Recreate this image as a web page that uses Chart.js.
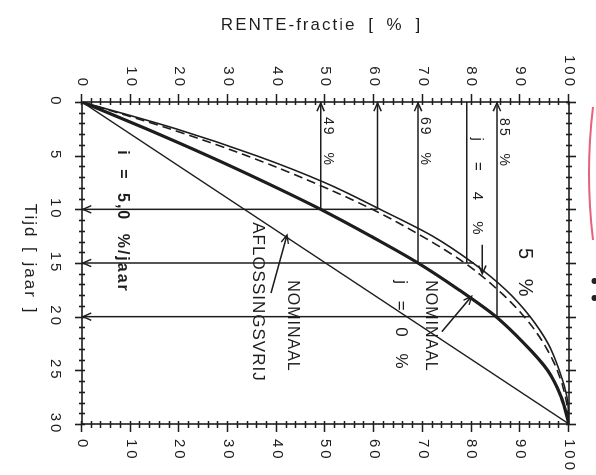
<!DOCTYPE html>
<html><head><meta charset="utf-8">
<script src="https://cdn.jsdelivr.net/npm/chart.js@4/dist/chart.umd.min.js"></script>
<style>
html,body{margin:0;padding:0;background:#fff;overflow:hidden;width:596px;height:475px}
#wrap{position:absolute;left:0;top:0;width:475px;height:596px;transform-origin:0 0;transform:translate(596px,0) rotate(90deg)}
canvas{display:block}
</style></head><body>
<div id="wrap"><canvas id="c" width="475" height="596"></canvas></div>
<script>
// ---- data (time in years, RENTE-fractie in %) ----
const years        = [0, 2.5, 5, 7.5, 10, 12.5, 15, 17.5, 20, 22.5, 25, 27.5, 30];
const nominalJ0    = [0, 13.2, 25.8, 37.7, 49.0, 59.3, 69.0, 77.4, 85.0, 90.8, 95.6, 98.4, 100];
const realJ4       = [0, 18.0, 33.8, 47.5, 59.6, 69.8, 78.6, 85.4, 90.8, 94.8, 97.6, 99.3, 100];
const realJ5       = [0, 19.3, 35.8, 49.8, 61.2, 72.0, 80.3, 87.0, 92.0, 95.7, 98.0, 99.6, 100];
const interestOnlyYears    = [0, 30];
const interestOnlyFraction = [0, 100];
const timeTickStep = 5;
const fractionTickStep = 10;
// guide lines: constant fraction from year 0 to an end year
const guideFractions = [49, 60.7, 69, 79, 85.2];
const guideEndYears  = [10, 10, 15, 15, 20];
const guideHasArrow  = [true, true, true, false, true];
// guide lines: constant year from fraction 0 to an end fraction
const markerYears     = [10, 15, 20];
const markerEndFracts = [60.7, 80.5, 92];

const INK = '#1d1d1d';
const FONT = '"Liberation Sans", Arial, sans-serif';

const notes = [
  {text:'49 %', t:1.4, r:49.7, size:14, ls:2, ws:10},
  {text:'69 %', t:1.4, r:69.7, size:14, ls:2, ws:10},
  {text:'85 %', t:1.5, r:85.8, size:14, ls:2, ws:10},
  {text:'j = 4 %', t:3.3, r:80.2, size:15, ls:2, ws:13},
  {text:'5 %', t:13.6, r:89.8, size:20, ls:2, ws:10},
  {text:'NOMINAAL', t:16.6, r:70.6, size:16, ls:1, ws:0},
  {text:'j = 0 %', t:16.6, r:64.4, size:17, ls:2, ws:8},
  {text:'NOMINAAL', t:16.6, r:42.3, size:16, ls:1, ws:0},
  {text:'AFLOSSINGSVRIJ', t:11.2, r:35.1, size:17, ls:1, ws:0},
  {text:'i = 5,0 %/jaar', t:4.5, r:7.4, size:16, bold:true, ls:2, ws:6}
];
const pointers = [
  {from:[13.3, 82.2], to:[16.0, 82.2]},
  {from:[21.4, 73.9], to:[18.1, 80.0]},
  {from:[17.8, 38.8], to:[12.4, 42.1]}
];

const pts = (xs, ys) => xs.map((x, i) => ({x, y: ys[i]}));
const datasets = [
  {data: pts(years, nominalJ0), borderColor: INK, borderWidth: 3.2, cubicInterpolationMode: 'monotone'},
  {data: pts(years, realJ4), borderColor: INK, borderWidth: 1.6, borderDash: [9, 5], cubicInterpolationMode: 'monotone'},
  {data: pts(years, realJ5), borderColor: INK, borderWidth: 1.6, cubicInterpolationMode: 'monotone'},
  {data: pts(interestOnlyYears, interestOnlyFraction), borderColor: INK, borderWidth: 1.4}
];
guideFractions.forEach((f, i) => datasets.push({data: [{x: 0, y: f}, {x: guideEndYears[i], y: f}], borderColor: INK, borderWidth: 1.5}));
markerYears.forEach((t, i) => datasets.push({data: [{x: t, y: 0}, {x: t, y: markerEndFracts[i]}], borderColor: INK, borderWidth: 1.5}));

function arrowHead(ctx, x, y, ang, len) {
  const a = 0.42;
  ctx.moveTo(x - len * Math.cos(ang - a), y - len * Math.sin(ang - a));
  ctx.lineTo(x, y);
  ctx.lineTo(x - len * Math.cos(ang + a), y - len * Math.sin(ang + a));
}

const deco = {
  id: 'deco',
  beforeDraw(chart) {
    chart.ctx.letterSpacing = '3px';
  },
  afterDatasetsDraw(chart) {
    const ctx = chart.ctx, xs = chart.scales.x, ys = chart.scales.y;
    const {left, right, top, bottom} = chart.chartArea;
    ctx.save();
    ctx.strokeStyle = INK; ctx.fillStyle = INK; ctx.lineWidth = 1.6; ctx.lineCap = 'butt';
    // frame
    ctx.strokeRect(left, top, right - left, bottom - top);
    // ticks
    ctx.beginPath();
    for (let t = 0; t <= 30; t += 1) {
      const p = Math.round(xs.getPixelForValue(t)) + 0.5, major = t % 5 === 0;
      ctx.moveTo(p, bottom - 3); ctx.lineTo(p, bottom + (major ? 7 : 3));
      ctx.moveTo(p, top + 3); ctx.lineTo(p, top - (major ? 7 : 3));
    }
    for (let r = 0; r <= 100; r += 2) {
      const p = Math.round(ys.getPixelForValue(r)) + 0.5, major = r % 10 === 0;
      ctx.moveTo(left + 3, p); ctx.lineTo(left - (major ? 8 : 4), p);
      ctx.moveTo(right - 3, p); ctx.lineTo(right + (major ? 8 : 4), p);
    }
    ctx.stroke();
    // arrow heads of guide lines
    ctx.lineWidth = 1.5;
    ctx.beginPath();
    guideFractions.forEach((f, i) => {
      if (guideHasArrow[i]) arrowHead(ctx, xs.getPixelForValue(0) + 1, ys.getPixelForValue(f), Math.PI, 9);
    });
    markerYears.forEach(t => arrowHead(ctx, xs.getPixelForValue(t), ys.getPixelForValue(0) - 1, Math.PI / 2, 9));
    pointers.forEach(p => {
      const x1 = xs.getPixelForValue(p.from[0]), y1 = ys.getPixelForValue(p.from[1]);
      const x2 = xs.getPixelForValue(p.to[0]), y2 = ys.getPixelForValue(p.to[1]);
      ctx.moveTo(x1, y1); ctx.lineTo(x2, y2);
      arrowHead(ctx, x2, y2, Math.atan2(y2 - y1, x2 - x1), 9);
    });
    ctx.stroke();
    // notes
    ctx.textAlign = 'left'; ctx.textBaseline = 'alphabetic';
    notes.forEach(n => {
      ctx.font = (n.bold ? 'bold ' : '') + n.size + 'px ' + FONT;
      ctx.letterSpacing = n.ls + 'px';
      ctx.wordSpacing = n.ws + 'px';
      ctx.fillText(n.text, xs.getPixelForValue(n.t), ys.getPixelForValue(n.r));
    });
    // axis titles
    ctx.font = '17px ' + FONT;
    ctx.letterSpacing = '2px'; ctx.wordSpacing = '5px';
    ctx.textAlign = 'center'; ctx.textBaseline = 'middle';
    ctx.save();
    ctx.translate(25, (top + bottom) / 2 + 4);
    ctx.rotate(-Math.PI / 2);
    ctx.fillText('RENTE-fractie [ % ]', 0, 0);
    ctx.restore();
    ctx.wordSpacing = '2px';
    ctx.fillText('Tijd [ jaar ]', (left + right) / 2 - 4, 566);
    ctx.letterSpacing = '0px'; ctx.wordSpacing = '0px';
    // scan marks at the page edge
    ctx.strokeStyle = '#e8607c'; ctx.lineWidth = 2.2;
    ctx.beginPath(); ctx.moveTo(107, 3); ctx.quadraticCurveTo(173, 11, 240, 3); ctx.stroke();
    ctx.fillStyle = '#222';
    ctx.beginPath(); ctx.arc(281, 1.5, 3, 0, 2 * Math.PI); ctx.arc(298, 1.5, 3, 0, 2 * Math.PI); ctx.fill();
    ctx.restore();
  }
};

const tickFont = {family: FONT, size: 15};
new Chart(document.getElementById('c'), {
  type: 'line',
  data: {datasets},
  options: {
    responsive: false, animation: false, devicePixelRatio: 1,
    layout: {padding: {top: 27, left: 0, right: 0, bottom: 0}},
    elements: {point: {radius: 0}, line: {tension: 0, fill: false}},
    plugins: {legend: {display: false}, tooltip: {enabled: false}},
    scales: {
      x: {type: 'linear', position: 'bottom', min: 0, max: 30,
          grid: {display: false}, border: {display: false},
          ticks: {stepSize: timeTickStep, color: INK, font: tickFont, padding: 10, maxRotation: 0, autoSkip: false},
          afterFit(s) { s.height = 82; }},
      y: {type: 'linear', position: 'left', min: 0, max: 100,
          grid: {display: false}, border: {display: false},
          ticks: {stepSize: fractionTickStep, color: INK, font: tickFont, padding: 5, autoSkip: false},
          afterFit(s) { s.width = 102; }},
      y2: {type: 'linear', position: 'right', min: 0, max: 100,
          grid: {display: false}, border: {display: false},
          ticks: {stepSize: fractionTickStep, color: INK, font: tickFont, padding: 7, autoSkip: false},
          afterFit(s) { s.width = 51; }}
    }
  },
  plugins: [deco]
});
</script>
</body></html>
